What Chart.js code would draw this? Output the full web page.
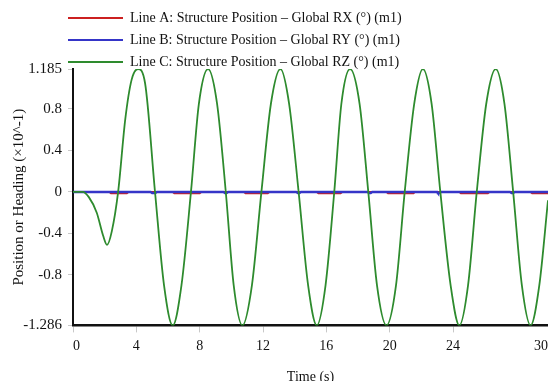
<!DOCTYPE html>
<html><head><meta charset="utf-8">
<script src="https://cdn.jsdelivr.net/npm/chart.js@4/dist/chart.umd.min.js"></script>
<style>
html,body{margin:0;padding:0;background:#fff;overflow:hidden;}
#wrap{position:relative;width:548px;height:386px;}
</style></head>
<body><div id="wrap"><canvas id="c"></canvas></div>
<script>
const seriesNames = [
  'Line A: Structure Position – Global RX (°) (m1)',
  'Line B: Structure Position – Global RY (°) (m1)',
  'Line C: Structure Position – Global RZ (°) (m1)'
];
const seriesColors = ['#cc2020', '#3535c8', '#2e8b2e'];

const timeA = [0, 2.3, 2.4, 3.4, 3.5, 6.3, 6.4, 8.0, 8.1, 10.8, 10.9, 12.3, 12.4, 15.4, 15.5, 16.9, 17.0, 19.8, 19.9, 21.5, 21.6, 24.4, 24.5, 26.2, 26.3, 28.9, 29.0, 30];
const valueA = [0, 0, -0.012, -0.012, 0, 0, -0.012, -0.012, 0, 0, -0.012, -0.012, 0, 0, -0.012, -0.012, 0, 0, -0.012, -0.012, 0, 0, -0.012, -0.012, 0, 0, -0.012, -0.012];

const timeB = [0, 4.9, 5.0, 5.2, 5.3, 9.5, 9.6, 9.7, 9.8, 14.1, 14.2, 14.3, 14.4, 18.6, 18.7, 18.8, 18.9, 23.0, 23.05, 23.15, 23.2, 27.6, 27.7, 27.8, 27.9, 30];
const valueB = [0, 0, -0.01, -0.01, 0, 0, -0.01, -0.01, 0, 0, -0.01, -0.01, 0, 0, -0.01, -0.01, 0, 0, -0.01, -0.01, 0, 0, -0.01, -0.01, 0, 0];

const timeC = [0, 0.6, 1.0, 1.5, 1.9, 2.15, 2.45, 2.85, 3.3, 3.7,
  4.1, 4.55, 5.18, 5.75, 6.3, 6.85, 7.45, 7.95, 8.53, 9.1,
  9.65, 10.15, 10.7, 11.3, 11.9, 12.5, 13.1, 13.65, 14.25, 14.85,
  15.4, 15.95, 16.5, 16.95, 17.5, 18.1, 18.65, 19.2, 19.8, 20.4,
  20.95, 21.55, 22.1, 22.65, 23.2, 23.85, 24.4, 24.95, 25.5, 26.1,
  26.7, 27.25, 27.8, 28.35, 28.9, 29.45, 30];
const valueC = [0, 0, -0.05, -0.2, -0.42, -0.51, -0.38, 0, 0.7, 1.08,
  1.185, 1.05, 0, -0.9, -1.286, -0.9, 0, 0.85, 1.185, 0.85,
  0, -0.9, -1.286, -0.9, 0, 0.85, 1.185, 0.85, 0, -0.9,
  -1.286, -0.9, 0, 0.85, 1.185, 0.85, 0, -0.9, -1.286, -0.9,
  0, 0.85, 1.185, 0.85, 0, -0.9, -1.286, -0.9, 0, 0.85,
  1.185, 0.85, 0, -0.9, -1.286, -0.9, -0.08];

const yTickValues = [-1.286, -0.8, -0.4, 0, 0.4, 0.8, 1.185];
const xTickValues = [0, 4, 8, 12, 16, 20, 24, 30];
const xTitle = 'Time (s)';
const yTitle = 'Position or Heading (×10^-1)';

const SERIF = "'Liberation Serif', 'Times New Roman', serif";
const toPts = (ts, vs) => ts.map((t, i) => ({x: t, y: vs[i]}));

const legendShift = {
  id: 'legendShift',
  beforeLayout(chart) {
    const lg = chart.legend;
    if (lg && !lg.__patched) {
      const orig = lg.fit;
      lg.fit = function () { orig.call(this); this.height = Math.max(0, this.height - 10); };
      lg.__patched = true;
    }
  },
  afterLayout(chart) {
    const lg = chart.legend;
    if (lg) { lg.left = 60; lg.bottom = lg.top + lg.height + 12; }
  }
};

new Chart(document.getElementById('c'), {
  type: 'line',
  data: {
    datasets: [
      {label: seriesNames[0], data: toPts(timeA, valueA), borderColor: seriesColors[0], backgroundColor: seriesColors[0], borderWidth: 2, pointRadius: 0, tension: 0, order: 2},
      {label: seriesNames[1], data: toPts(timeB, valueB), borderColor: seriesColors[1], backgroundColor: seriesColors[1], borderWidth: 2.5, pointRadius: 0, tension: 0, order: 1},
      {label: seriesNames[2], data: toPts(timeC, valueC), borderColor: seriesColors[2], backgroundColor: seriesColors[2], borderWidth: 1.8, pointRadius: 0, cubicInterpolationMode: 'monotone', order: 0}
    ]
  },
  options: {
    responsive: true,
    maintainAspectRatio: false,
    animation: false,
    layout: {padding: {top: 3, left: 0, right: 0, bottom: 0}},
    plugins: {
      tooltip: {enabled: false},
      legend: {
        display: true,
        position: 'top',
        align: 'start',
        labels: {
          boxWidth: 55,
          boxHeight: 2,
          padding: 8,
          color: '#111',
          font: {family: SERIF, size: 14},
          generateLabels(chart) {
            const items = Chart.defaults.plugins.legend.labels.generateLabels(chart);
            items.sort((a, b) => a.datasetIndex - b.datasetIndex);
            items.forEach(it => { it.fillStyle = it.strokeStyle; it.lineWidth = 0; });
            return items;
          }
        }
      }
    },
    scales: {
      x: {
        type: 'linear',
        min: 0,
        max: 30,
        afterBuildTicks(scale) { scale.ticks = xTickValues.map(v => ({value: v})); },
        afterFit(scale) { scale.paddingRight = 0; },
        ticks: {color: '#111', font: {family: SERIF, size: 14}, padding: 6, maxRotation: 0, align: 'inner',
          callback: v => String(v)},
        grid: {drawOnChartArea: false, drawTicks: true, tickLength: 7, color: '#c8c8c8'},
        border: {display: true, color: '#111', width: 2.5},
        title: {display: true, text: xTitle, color: '#111', font: {family: SERIF, size: 14}, padding: {top: 8, bottom: 0}}
      },
      y: {
        type: 'linear',
        min: -1.286,
        max: 1.185,
        afterBuildTicks(scale) { scale.ticks = yTickValues.map(v => ({value: v})); },
        afterFit(scale) { scale.width = 73; },
        ticks: {color: '#111', font: {family: SERIF, size: 15}, padding: 6,
          callback: v => String(v)},
        grid: {drawOnChartArea: false, drawTicks: true, tickLength: 5, color: '#c8c8c8'},
        border: {display: true, color: '#111', width: 2},
        title: {display: true, text: yTitle, color: '#111', font: {family: SERIF, size: 15}, padding: {top: 10, bottom: 0}}
      }
    }
  },
  plugins: [legendShift]
});
</script>
</body></html>
